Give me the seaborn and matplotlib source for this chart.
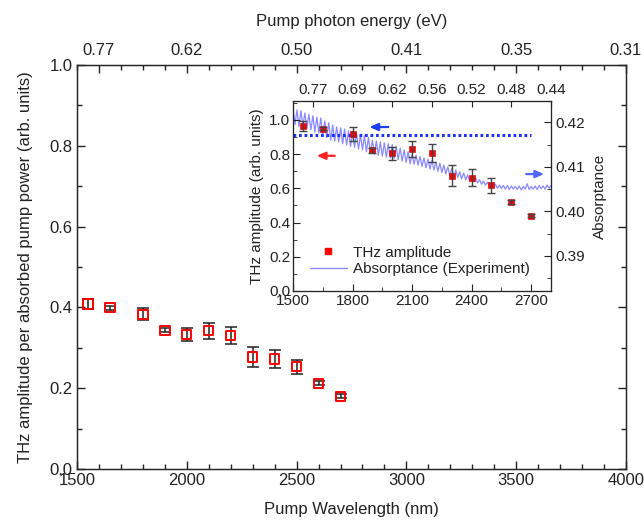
import numpy as np
import pandas as pd
import seaborn as sns
import matplotlib.pyplot as plt
from matplotlib.ticker import MultipleLocator, FixedLocator
from matplotlib.lines import Line2D

# main panel: THz amplitude per absorbed pump power
wavelength = [1550, 1650, 1800, 1900, 2000, 2100, 2200, 2300, 2400, 2500, 2600, 2700]
amp_per_power = [0.408, 0.399, 0.383, 0.343, 0.333, 0.342, 0.330, 0.277, 0.272, 0.253, 0.212, 0.180]
amp_per_power_err = [0.013, 0.005, 0.015, 0.005, 0.017, 0.019, 0.021, 0.025, 0.022, 0.017, 0.005, 0.005]

# inset: THz amplitude
thz_amp = [0.965, 0.948, 0.917, 0.823, 0.804, 0.829, 0.804, 0.674, 0.662, 0.617, 0.520, 0.441]
thz_amp_err = [0.030, 0.010, 0.040, 0.015, 0.037, 0.045, 0.053, 0.060, 0.050, 0.043, 0.010, 0.010]
dotted_level = 0.913
dotted_range = [1500, 2700]

# inset: absorptance (experiment), 10 nm steps 1500..2800
abs_wavelength = list(range(1500, 2801, 10))
absorptance = [
    0.4232, 0.4195, 0.4228, 0.4190, 0.4226, 0.4192, 0.4221, 0.4186, 0.4218, 0.4183,
    0.4215, 0.4178, 0.4212, 0.4176, 0.4210, 0.4170, 0.4203, 0.4166, 0.4199, 0.4160,
    0.4194, 0.4158, 0.4190, 0.4156, 0.4188, 0.4152, 0.4185, 0.4149, 0.4181, 0.4146,
    0.4180, 0.4144, 0.4176, 0.4140, 0.4172, 0.4138, 0.4170, 0.4134, 0.4166, 0.4130,
    0.4160, 0.4128, 0.4158, 0.4126, 0.4156, 0.4124, 0.4154, 0.4122, 0.4152, 0.4120,
    0.4150, 0.4119, 0.4146, 0.4116, 0.4142, 0.4113, 0.4138, 0.4110, 0.4134, 0.4107,
    0.4128, 0.4106, 0.4126, 0.4104, 0.4123, 0.4101, 0.4120, 0.4098, 0.4117, 0.4095,
    0.4114, 0.4093, 0.4111, 0.4090, 0.4108, 0.4087, 0.4104, 0.4084, 0.4100, 0.4080,
    0.4096, 0.4078, 0.4093, 0.4076, 0.4089, 0.4073, 0.4086, 0.4071, 0.4082, 0.4068,
    0.4078, 0.4066, 0.4075, 0.4064, 0.4071, 0.4061, 0.4068, 0.4059, 0.4065, 0.4057,
    0.4062, 0.4054, 0.4061, 0.4052, 0.4059, 0.4051, 0.4058, 0.4050, 0.4058, 0.4049,
    0.4057, 0.4050, 0.4056, 0.4049, 0.4057, 0.4048, 0.4056, 0.4050, 0.4062, 0.4049,
    0.4056, 0.4050, 0.4057, 0.4049, 0.4058, 0.4051, 0.4057, 0.4050, 0.4059, 0.4052,
    0.4058,
]

# photon energy tick labels
main_top_ticks = [1600, 2000, 2500, 3000, 3500, 4000]
main_top_labels = ['0.77', '0.62', '0.50', '0.41', '0.35', '0.31']
inset_top_ticks = [1600, 1800, 2000, 2200, 2400, 2600, 2800]
inset_top_labels = ['0.77', '0.69', '0.62', '0.56', '0.52', '0.48', '0.44']

df_main = pd.DataFrame({'wl': wavelength, 'amp': amp_per_power, 'err': amp_per_power_err})
df_thz = pd.DataFrame({'wl': wavelength, 'amp': thz_amp, 'err': thz_amp_err})
df_abs = pd.DataFrame({'wl': abs_wavelength, 'abs': absorptance})

sns.set_style('ticks')
plt.rcParams['font.family'] = ['Liberation Sans', 'DejaVu Sans']
plt.rcParams['text.color'] = '#222222'
plt.rcParams['axes.labelcolor'] = '#222222'
plt.rcParams['xtick.color'] = '#222222'
plt.rcParams['ytick.color'] = '#222222'

fig = plt.figure(figsize=(6.44, 5.28), dpi=100)
ax = fig.add_axes([0.1196, 0.1117, 0.8524, 0.7653])

ax.errorbar(df_main['wl'], df_main['amp'], yerr=df_main['err'], fmt='none',
            ecolor='#222222', elinewidth=1.1, capsize=4, capthick=1.1, zorder=2)
sns.scatterplot(data=df_main, x='wl', y='amp', ax=ax, marker='s', s=45,
                facecolor='none', edgecolor='red', linewidth=1.4, zorder=3)

ax.set_xlim(1500, 4000)
ax.set_ylim(0, 1.0)
ax.xaxis.set_major_locator(MultipleLocator(500))
ax.xaxis.set_minor_locator(MultipleLocator(100))
ax.yaxis.set_major_locator(MultipleLocator(0.2))
ax.yaxis.set_minor_locator(MultipleLocator(0.1))
ax.yaxis.set_major_formatter(plt.FormatStrFormatter('%.1f'))
ax.tick_params(which='both', direction='in', right=True, labelsize=12, pad=3)
ax.tick_params(which='major', length=6, width=1)
ax.tick_params(which='minor', length=3.5, width=1)
ax.set_xlabel('Pump Wavelength (nm)', fontsize=12, labelpad=10)
ax.set_ylabel('THz amplitude per absorbed pump power (arb. units)', fontsize=12, labelpad=12)
for s in ax.spines.values():
    s.set_linewidth(1.0)
    s.set_color('#222222')

ax_top = ax.twiny()
ax_top.set_xlim(ax.get_xlim())
ax_top.xaxis.set_major_locator(FixedLocator(main_top_ticks))
ax_top.set_xticklabels(main_top_labels)
ax_top.xaxis.set_minor_locator(MultipleLocator(100))
ax_top.tick_params(which='both', direction='in', labelsize=12, pad=5)
ax_top.tick_params(which='major', length=6, width=1)
ax_top.tick_params(which='minor', length=3.5, width=1)
ax_top.set_xlabel('Pump photon energy (eV)', fontsize=12, labelpad=12)

# inset
ax_in = fig.add_axes([0.455, 0.4489, 0.4006, 0.3598])
ax_tw = ax_in.twinx()
ax_in.set_zorder(ax_tw.get_zorder() + 1)
ax_in.patch.set_visible(False)

sns.lineplot(data=df_abs, x='wl', y='abs', ax=ax_tw, color='#8a8aff', linewidth=0.9)
ax_tw.set_ylim(0.3821, 0.4248)
ax_tw.yaxis.set_major_locator(MultipleLocator(0.01))
ax_tw.yaxis.set_minor_locator(MultipleLocator(0.005))
ax_tw.yaxis.set_major_formatter(plt.FormatStrFormatter('%.2f'))
ax_tw.set_ylabel('Absorptance', fontsize=11, labelpad=6)
ax_tw.tick_params(which='both', direction='in', labelsize=11, pad=3)
ax_tw.tick_params(which='major', length=5)
ax_tw.tick_params(which='minor', length=3)

ax_in.plot(dotted_range, [dotted_level, dotted_level], color='#1e32ff',
           linewidth=2.2, linestyle=(0, (0.9, 0.9)))
sns.scatterplot(data=df_thz, x='wl', y='amp', ax=ax_in, marker='s', s=16,
                color='red', edgecolor='#c00000', linewidth=0.4, zorder=3)
ax_in.errorbar(df_thz['wl'], df_thz['amp'], yerr=df_thz['err'], fmt='none',
               ecolor='#444444', elinewidth=1.0, capsize=2.8, capthick=1.0, zorder=4)

ax_in.set_xlim(1500, 2800)
ax_in.set_ylim(0, 1.11)
ax_in.xaxis.set_major_locator(MultipleLocator(300))
ax_in.xaxis.set_minor_locator(MultipleLocator(150))
ax_in.yaxis.set_major_locator(MultipleLocator(0.2))
ax_in.yaxis.set_minor_locator(MultipleLocator(0.1))
ax_in.yaxis.set_major_formatter(plt.FormatStrFormatter('%.1f'))
ax_in.tick_params(which='both', direction='in', labelsize=11, pad=2)
ax_in.tick_params(which='major', length=5)
ax_in.tick_params(which='minor', length=3)
ax_in.set_xlabel('')
ax_in.set_ylabel('THz amplitude (arb. units)', fontsize=11, labelpad=4)
ax_tw.set_xlabel('')

ax_in_top = ax_in.twiny()
ax_in_top.set_xlim(ax_in.get_xlim())
ax_in_top.xaxis.set_major_locator(FixedLocator(inset_top_ticks))
ax_in_top.set_xticklabels(inset_top_labels)
ax_in_top.xaxis.set_minor_locator(MultipleLocator(100))
ax_in_top.tick_params(which='both', direction='in', labelsize=11, pad=3)
ax_in_top.tick_params(which='major', length=4)
ax_in_top.tick_params(which='minor', length=0)

# arrows pointing to the axes
arrow_kw = dict(arrowstyle='-|>,head_length=0.5,head_width=0.22', linewidth=1.6,
                shrinkA=0, shrinkB=0)
ax_in.annotate('', xy=(1885, 0.958), xytext=(1980, 0.958),
               arrowprops=dict(color='#1e3cff', **arrow_kw))
ax_in.annotate('', xy=(1620, 0.790), xytext=(1710, 0.790),
               arrowprops=dict(color='#ff2020', **arrow_kw))
ax_in.annotate('', xy=(2765, 0.683), xytext=(2675, 0.683),
               arrowprops=dict(color='#5068ff', **arrow_kw))

handles = [
    Line2D([], [], linestyle='none', marker='s', markersize=4, color='red'),
    Line2D([], [], color='#8a8aff', linewidth=1.0),
]
ax_in.legend(handles, ['THz amplitude', 'Absorptance (Experiment)'],
             loc='lower left', bbox_to_anchor=(0.03, 0.03), frameon=False,
             fontsize=11, handlelength=2.4, handletextpad=0.4, labelspacing=0.15,
             borderaxespad=0.2)

plt.savefig('out.png', dpi=100)
